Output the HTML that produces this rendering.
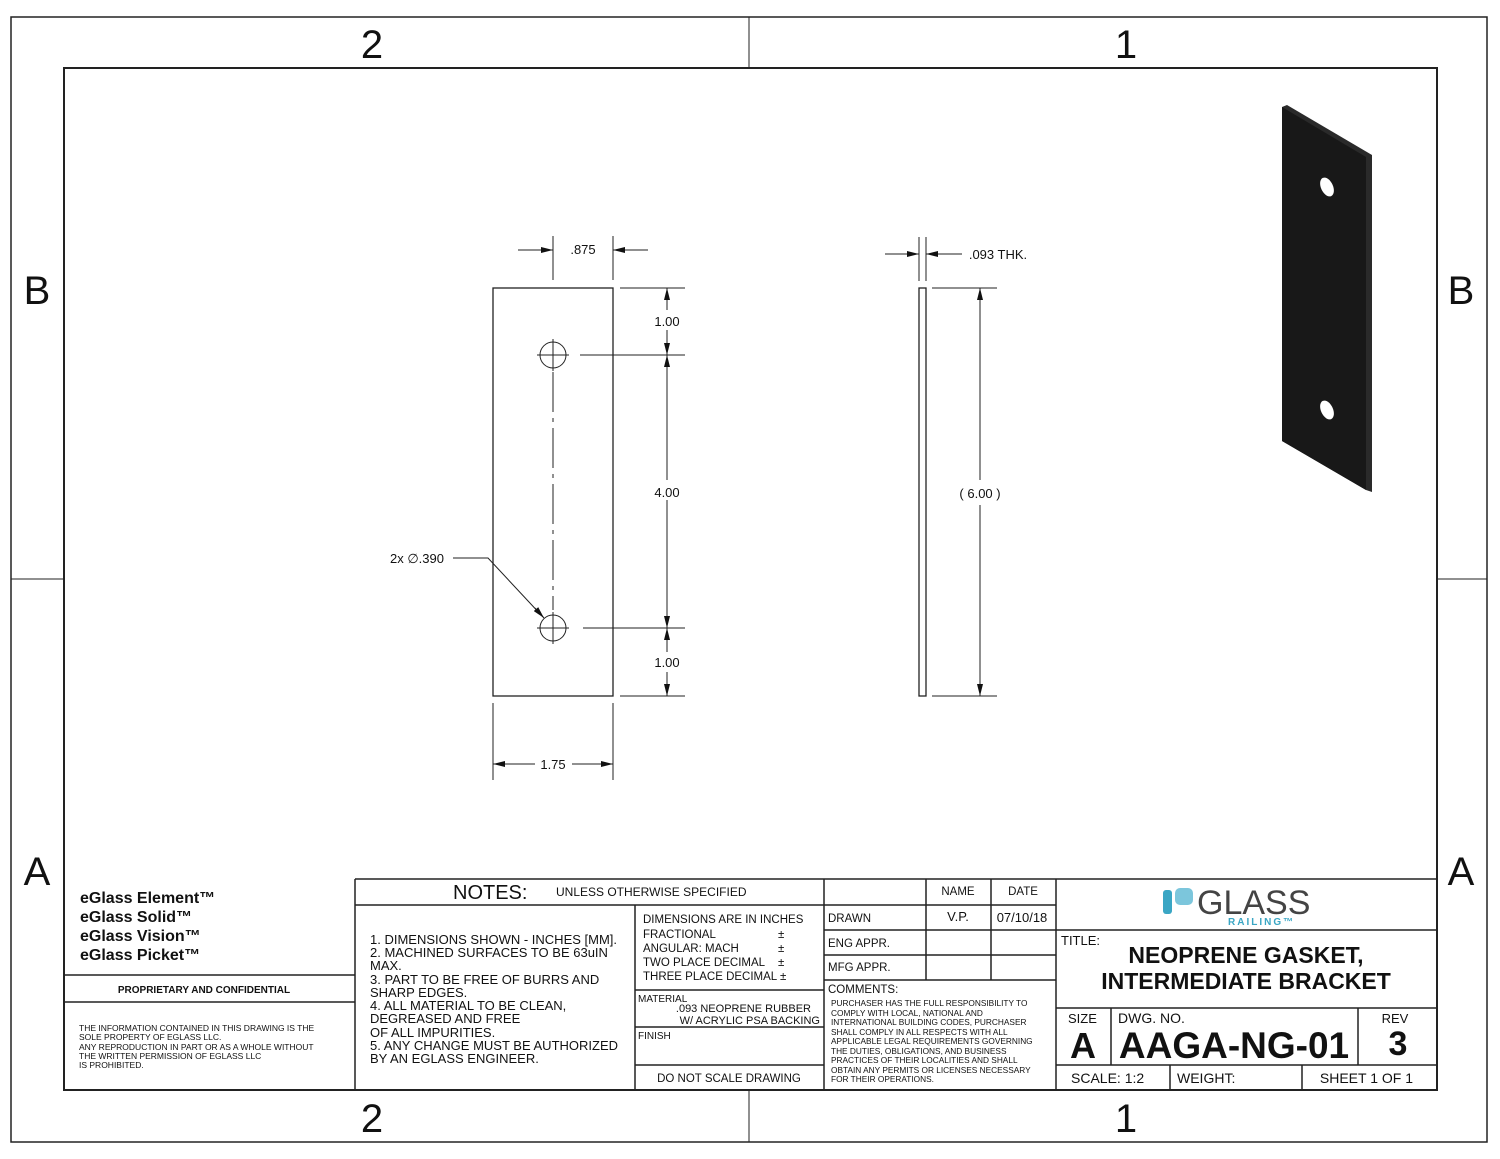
<!DOCTYPE html>
<html><head><meta charset="utf-8"><style>
html,body{margin:0;padding:0;background:#fff}
svg{display:block}
text{font-family:"Liberation Sans",sans-serif;fill:#111}
</style></head><body>
<svg width="1500" height="1159" viewBox="0 0 1500 1159" xmlns="http://www.w3.org/2000/svg">
<defs>
<marker id="a" viewBox="0 0 12 6" refX="12" refY="3" markerWidth="12" markerHeight="6" orient="auto-start-reverse" markerUnits="userSpaceOnUse"><path d="M0,0L12,3L0,6Z" fill="#111"/></marker>
</defs>
<g fill="none" stroke="#222" stroke-width="1.5">
<rect x="11" y="17" width="1476" height="1125"/>
<rect x="64" y="68" width="1373" height="1022" stroke-width="2"/>
<line x1="749" y1="17" x2="749" y2="68" stroke-width="1"/>
<line x1="749" y1="1090" x2="749" y2="1142" stroke-width="1"/>
<line x1="11" y1="579" x2="64" y2="579" stroke-width="1"/>
<line x1="1437" y1="579" x2="1487" y2="579" stroke-width="1"/>
</g>
<g font-size="40" text-anchor="middle">
<text x="372" y="58">2</text><text x="1126" y="58">1</text>
<text x="372" y="1132">2</text><text x="1126" y="1132">1</text>
<text x="37" y="304">B</text><text x="1461" y="304">B</text>
<text x="37" y="885">A</text><text x="1461" y="885">A</text>
</g>

<g stroke="#222" fill="none" stroke-width="1">
<rect x="493" y="288" width="120" height="408" stroke-width="1.3"/>
<circle cx="553" cy="355" r="13"/><circle cx="553" cy="628" r="13"/>
<path d="M537,355h32M553,339v32M537,628h32M553,612v32"/>
<line x1="553" y1="372" x2="553" y2="610" stroke-dasharray="40,6,4,6"/>
<path d="M553,236v44M613,236v44"/>
<line x1="518" y1="250" x2="553" y2="250" marker-end="url(#a)"/>
<line x1="648" y1="250" x2="613" y2="250" marker-end="url(#a)"/>
<path d="M620,288h65M580,355h105M583,628h102M620,696h65"/>
<line x1="667" y1="310" x2="667" y2="288" marker-end="url(#a)"/>
<line x1="667" y1="330" x2="667" y2="355" marker-end="url(#a)"/>
<line x1="667" y1="480" x2="667" y2="355" marker-end="url(#a)"/>
<line x1="667" y1="500" x2="667" y2="628" marker-end="url(#a)"/>
<line x1="667" y1="652" x2="667" y2="628" marker-end="url(#a)"/>
<line x1="667" y1="672" x2="667" y2="696" marker-end="url(#a)"/>
<path d="M493,703v77M613,703v77"/>
<line x1="535" y1="764" x2="493" y2="764" marker-end="url(#a)"/>
<line x1="572" y1="764" x2="613" y2="764" marker-end="url(#a)"/>
<polyline points="453,558 488,558 543,617"/>
<line x1="535" y1="608" x2="544" y2="618" marker-end="url(#a)"/>
</g>
<g font-size="13" text-anchor="middle">
<text x="583" y="254">.875</text>
<text x="667" y="326">1.00</text>
<text x="667" y="497">4.00</text>
<text x="667" y="667">1.00</text>
<text x="553" y="769">1.75</text>
<text x="417" y="563">2x ∅.390</text>
<text x="998" y="259">.093 THK.</text>
<text x="980" y="498">( 6.00 )</text>
</g>

<g stroke="#222" fill="none" stroke-width="1">
<rect x="919" y="288" width="7" height="408" stroke-width="1.3"/>
<path d="M919,237v44M926,237v44"/>
<line x1="885" y1="254" x2="919" y2="254" marker-end="url(#a)"/>
<line x1="962" y1="254" x2="926" y2="254" marker-end="url(#a)"/>
<path d="M932,288h65M932,696h65"/>
<line x1="980" y1="480" x2="980" y2="288" marker-end="url(#a)"/>
<line x1="980" y1="505" x2="980" y2="696" marker-end="url(#a)"/>
</g>

<polygon points="1282,107 1287,105 1372,155 1372,492 1366,490 1282,441" fill="#2a2a2a"/>
<polygon points="1282,107 1366,157 1366,490 1282,441" fill="#181818"/>
<ellipse cx="1327" cy="187" rx="6" ry="10" fill="#fff" transform="rotate(-25 1327 187)"/>
<ellipse cx="1327" cy="410" rx="6" ry="10" fill="#fff" transform="rotate(-25 1327 410)"/>

<g stroke="#222" fill="none" stroke-width="1.5">
<path d="M355,879H1437M355,879V1090M64,975H355M64,1002H355"/>
<path d="M355,905H824M824,879V1090M635,905V1090M635,990H824M635,1027H824M635,1065H824"/>
<path d="M926,879V980M991,879V980M824,905H1056M824,930H1056M824,955H1056M824,980H1056M1056,879V1090"/>
<path d="M1056,930H1437M1056,1008H1437M1056,1065H1437M1111,1008V1065M1358,1008V1065M1170,1065V1090M1302,1065V1090"/>
</g>
<g font-size="16" font-weight="bold" font-family="DejaVu Sans, sans-serif">
<text x="80" y="903">eGlass Element™</text>
<text x="80" y="922">eGlass Solid™</text>
<text x="80" y="941">eGlass Vision™</text>
<text x="80" y="960">eGlass Picket™</text>
</g>
<text x="204" y="993" font-size="10" font-weight="bold" text-anchor="middle">PROPRIETARY AND CONFIDENTIAL</text>
<g font-size="8.5">
<text x="79" y="1031">THE INFORMATION CONTAINED IN THIS DRAWING IS THE</text>
<text x="79" y="1040">SOLE PROPERTY OF EGLASS LLC.</text>
<text x="79" y="1050">ANY REPRODUCTION IN PART OR AS A WHOLE WITHOUT</text>
<text x="79" y="1059">THE WRITTEN PERMISSION OF EGLASS LLC</text>
<text x="79" y="1068">IS PROHIBITED.</text>
</g>
<text x="453" y="899" font-size="20">NOTES:</text>
<text x="556" y="896" font-size="12">UNLESS OTHERWISE SPECIFIED</text>
<g font-size="13">
<text x="370" y="944">1. DIMENSIONS SHOWN - INCHES [MM].</text>
<text x="370" y="957">2. MACHINED SURFACES TO BE 63uIN</text>
<text x="370" y="970">MAX.</text>
<text x="370" y="984">3. PART TO BE FREE OF BURRS AND</text>
<text x="370" y="997">SHARP EDGES.</text>
<text x="370" y="1010">4. ALL MATERIAL TO BE CLEAN,</text>
<text x="370" y="1023">DEGREASED AND FREE</text>
<text x="370" y="1037">OF ALL IMPURITIES.</text>
<text x="370" y="1050">5. ANY CHANGE MUST BE AUTHORIZED</text>
<text x="370" y="1063">BY AN EGLASS ENGINEER.</text>
</g>
<g font-size="11.5">
<text x="643" y="923">DIMENSIONS ARE IN INCHES</text>
<text x="643" y="938">FRACTIONAL</text><text x="778" y="938">±</text>
<text x="643" y="952">ANGULAR: MACH</text><text x="778" y="952">±</text>
<text x="643" y="966">TWO PLACE DECIMAL</text><text x="778" y="966">±</text>
<text x="643" y="980">THREE PLACE DECIMAL</text><text x="780" y="980">±</text>
<text x="638" y="1002" font-size="10">MATERIAL</text>
<text x="811" y="1012" text-anchor="end" font-size="11">.093 NEOPRENE RUBBER</text>
<text x="820" y="1024" text-anchor="end" font-size="11">W/ ACRYLIC PSA BACKING</text>
<text x="638" y="1039" font-size="10">FINISH</text>
<text x="729" y="1082" text-anchor="middle">DO NOT SCALE DRAWING</text>
<text x="958" y="895" text-anchor="middle">NAME</text>
<text x="1023" y="895" text-anchor="middle">DATE</text>
<text x="828" y="922">DRAWN</text>
<text x="958" y="921" text-anchor="middle" font-size="13">V.P.</text>
<text x="1022" y="922" text-anchor="middle" font-size="13">07/10/18</text>
<text x="828" y="947">ENG APPR.</text>
<text x="828" y="971">MFG APPR.</text>
<text x="828" y="993">COMMENTS:</text>
</g>
<g font-size="8.3">
<text x="831" y="1006">PURCHASER HAS THE FULL RESPONSIBILITY TO</text>
<text x="831" y="1016">COMPLY WITH LOCAL, NATIONAL AND</text>
<text x="831" y="1025">INTERNATIONAL BUILDING CODES, PURCHASER</text>
<text x="831" y="1035">SHALL COMPLY IN ALL RESPECTS WITH ALL</text>
<text x="831" y="1044">APPLICABLE LEGAL REQUIREMENTS GOVERNING</text>
<text x="831" y="1054">THE DUTIES, OBLIGATIONS, AND BUSINESS</text>
<text x="831" y="1063">PRACTICES OF THEIR LOCALITIES AND SHALL</text>
<text x="831" y="1073">OBTAIN ANY PERMITS OR LICENSES NECESSARY</text>
<text x="831" y="1082">FOR THEIR OPERATIONS.</text>
</g>
<rect x="1163" y="890" width="9" height="24" rx="3" fill="#3aa6c4"/>
<rect x="1175" y="888" width="18" height="17" rx="5" fill="#7cc6dc"/>
<text x="1197" y="914" font-size="34" style="fill:#444">GLASS</text>
<text x="1228" y="925" font-size="10" font-weight="bold" letter-spacing="2" style="fill:#3aa6c4">RAILING™</text>
<text x="1061" y="945" font-size="13">TITLE:</text>
<text x="1246" y="963" font-size="23" font-weight="bold" text-anchor="middle">NEOPRENE GASKET,</text>
<text x="1246" y="989" font-size="23" font-weight="bold" text-anchor="middle">INTERMEDIATE BRACKET</text>
<text x="1068" y="1023" font-size="13">SIZE</text>
<text x="1118" y="1023" font-size="14">DWG.  NO.</text>
<text x="1395" y="1023" font-size="13" text-anchor="middle">REV</text>
<text x="1083" y="1058" font-size="36" font-weight="bold" text-anchor="middle">A</text>
<text x="1234" y="1058" font-size="37" font-weight="bold" text-anchor="middle">AAGA-NG-01</text>
<text x="1398" y="1055" font-size="34" font-weight="bold" text-anchor="middle">3</text>
<text x="1071" y="1083" font-size="14">SCALE: 1:2</text>
<text x="1177" y="1083" font-size="14">WEIGHT:</text>
<text x="1413" y="1083" font-size="14" text-anchor="end">SHEET 1 OF 1</text>
</svg>
</body></html>
